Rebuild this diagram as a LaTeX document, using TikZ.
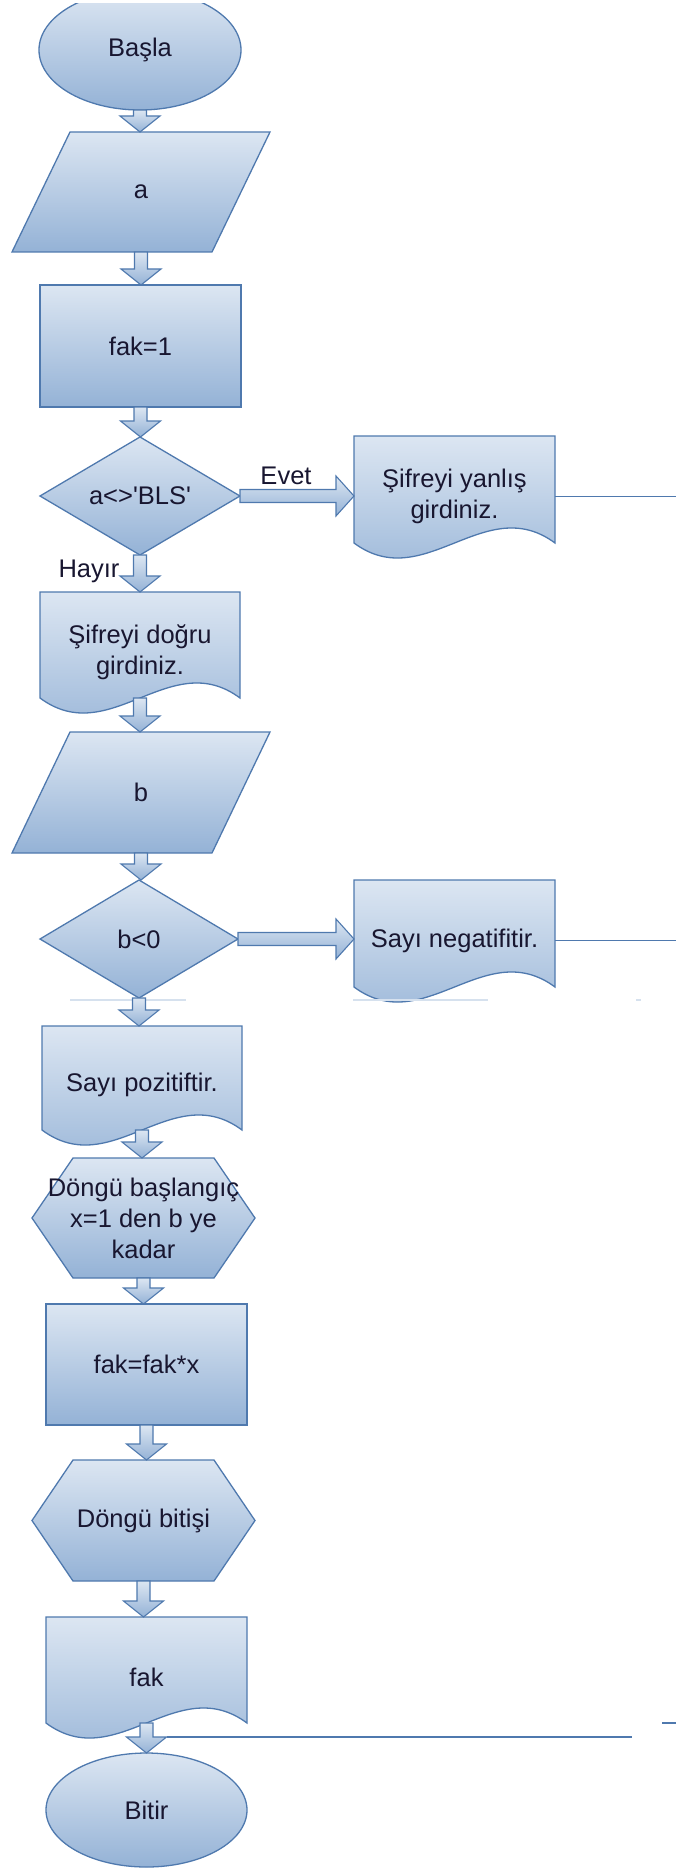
\documentclass[tikz,border=0pt]{standalone}
\usepackage{fontspec}
\setmainfont{Liberation Sans}[Ligatures={TeXOff,CommonOff}]
\usetikzlibrary{calc,backgrounds}

\definecolor{fillTop}{RGB}{220,230,242}
\definecolor{fillBot}{RGB}{148,178,214}
\definecolor{edge}{RGB}{79,121,174}
\definecolor{ink}{RGB}{24,22,48}
\definecolor{faint}{RGB}{214,225,238}

\tikzset{
  shp/.style={draw=edge, line width=1.3pt, top color=fillTop, bottom color=fillBot, line join=miter},
  barrow/.style={draw=edge, line width=1.1pt, top color=fillTop, bottom color=fillBot},
  wire/.style={draw=edge, line width=1.4pt},
  holder/.style={inner sep=0pt, outer sep=0pt, align=center, text=ink,
    font=\fontsize{25.5}{31}\selectfont},
  lbl/.style={inner sep=0pt, text=ink, font=\fontsize{25.5}{31}\selectfont},
}

% block arrow pointing down, from point #1 to tip #2
\newcommand\flowdown[2]{%
  \path[barrow] let \p1=#1, \p2=#2 in
    (\x1-6.5pt,\y1) -- (\x1-6.5pt,\y2+16pt) -- (\x1-20pt,\y2+16pt) -- (\x1,\y2)
    -- (\x1+20pt,\y2+16pt) -- (\x1+6.5pt,\y2+16pt) -- (\x1+6.5pt,\y1) -- cycle;}
% block arrow pointing right, from point #1 to tip #2
\newcommand\flowright[2]{%
  \path[barrow] let \p1=#1, \p2=#2 in
    (\x1,\y1+6.5pt) -- (\x2-18pt,\y1+6.5pt) -- (\x2-18pt,\y1+20pt) -- (\x2,\y1)
    -- (\x2-18pt,\y1-20pt) -- (\x2-18pt,\y1-6.5pt) -- (\x1,\y1-6.5pt) -- cycle;}
% document outline with a wavy bottom edge
\newcommand\docshape[1]{%
  \path[shp] (#1.north west) -- (#1.north east) -- ($(#1.south east)+(0,-14)$)
    .. controls ($(#1.south east)!0.35!(#1.south west)+(0,-66)$)
    and ($(#1.south east)!0.65!(#1.south west)+(0,38)$)
    .. ($(#1.south west)+(0,-14)$) -- cycle;}
\newcommand\rhombus[1]{%
  \path[shp] (#1.north) -- (#1.east) -- (#1.south) -- (#1.west) -- cycle;}
\newcommand\hexa[1]{%
  \path[shp] ($(#1.north west)+(41,0)$) -- ($(#1.north east)+(-41,0)$) -- (#1.east)
    -- ($(#1.south east)+(-41,0)$) -- ($(#1.south west)+(41,0)$) -- (#1.west) -- cycle;}
\newcommand\slanted[1]{%
  \path[shp] ($(#1.north west)+(58,0)$) -- (#1.north east) -- ($(#1.south east)+(-58,0)$)
    -- (#1.south west) -- cycle;}

\begin{document}
\begin{tikzpicture}[x=1pt, y=-1pt]
\useasboundingbox (0,0) rectangle (676,1870);

% nodes (text and extents)
\node[holder, minimum width=202pt, minimum height=120pt] (basla) at (140,50) {Başla};
\node[holder, minimum width=258pt, minimum height=120pt] (a) at (141,192) {a};
\node[holder, minimum width=201pt, minimum height=122pt] (fak1) at (140.5,346) {fak=1};
\node[holder, minimum width=200pt, minimum height=118pt] (q1) at (140,496) {a<>'BLS'};
\node[holder, minimum width=201pt, minimum height=121pt] (wrong) at (454.5,496.5) {Şifreyi yanlış\\girdiniz.};
\node[holder, minimum width=200pt, minimum height=120pt] (right) at (140,652) {Şifreyi doğru\\girdiniz.};
\node[holder, minimum width=258pt, minimum height=121pt] (b) at (141,792.5) {b};
\node[holder, minimum width=198pt, minimum height=118pt] (q2) at (139,939) {b<0};
\node[holder, minimum width=201pt, minimum height=121pt] (neg) at (454.5,940.5) {Sayı negatifitir.};
\node[holder, minimum width=200pt, minimum height=118pt] (poz) at (142,1085) {Sayı pozitiftir.};
\node[holder, minimum width=223pt, minimum height=120pt] (loopA) at (143.5,1218) {Döngü başlangıç\\x=1 den b ye\\kadar};
\node[holder, minimum width=201pt, minimum height=121pt] (body) at (146.5,1364.5) {fak=fak*x};
\node[holder, minimum width=223pt, minimum height=121pt] (loopB) at (143.5,1520.5) {Döngü bitişi};
\node[holder, minimum width=201pt, minimum height=120pt] (out) at (146.5,1677) {fak};
\node[holder, minimum width=201pt, minimum height=114pt] (bitir) at (146.5,1810) {Bitir};

\node[lbl] (evet) at (286,476) {Evet};
\node[lbl] (hayir) at (89,571) {Hayır};

% shapes behind the texts
\begin{scope}[on background layer]
  \begin{scope}
    \clip (0,4) rectangle (676,200);
    \path[shp] (basla.center) ellipse [x radius=101pt, y radius=60pt];
  \end{scope}
  \slanted{a}
  \path[shp] (fak1.north west) rectangle (fak1.south east);
  \rhombus{q1}
  \docshape{wrong}
  \docshape{right}
  \slanted{b}
  \rhombus{q2}
  \docshape{neg}
  \draw[faint, line width=1.6pt] (70,1000) -- (186,1000) (353,1000) -- (488,1000) (636,1000) -- (641,1000);
  \docshape{poz}
  \hexa{loopA}
  \path[shp] (body.north west) rectangle (body.south east);
  \hexa{loopB}
  \docshape{out}
  \path[shp] (bitir.center) ellipse [x radius=100.5pt, y radius=57pt];
\end{scope}

% block arrows
\flowdown{(basla.south)}{(a.north)}
\flowdown{(a.south)}{(fak1.north)}
\flowdown{(fak1.south)}{(q1.north)}
\flowright{(q1.east)}{(wrong.west)}
\flowdown{(q1.south)}{(right.north)}
\flowdown{($(right.south)+(0,-14)$)}{(b.north)}
\flowdown{(b.south)}{(q2.north)}
\flowright{(q2.east)}{(neg.west)}
\flowdown{(q2.south)}{(poz.north)}
\flowdown{($(poz.south)+(0,-14)$)}{(loopA.north)}
\flowdown{(loopA.south)}{(body.north)}
\flowdown{(body.south)}{(loopB.north)}
\flowdown{(loopB.south)}{(out.north)}
\flowdown{($(out.south)+(0,-14)$)}{(bitir.north)}

% plain connectors leaving to the right
\coordinate (exitA) at (676,496.5);
\coordinate (exitB) at (676,940.5);
\coordinate (loopin) at ($(bitir.north)+(20,-16)$);
\coordinate (loopend) at (632,1737);
\coordinate (stubA) at (662,1723);
\coordinate (stubB) at (676,1723);
\draw[wire] (wrong.east) -- (exitA);
\draw[wire] (neg.east) -- (exitB);
\draw[wire] (loopin) -- (loopend);
\draw[wire] (stubA) -- (stubB);
\end{tikzpicture}
\end{document}
